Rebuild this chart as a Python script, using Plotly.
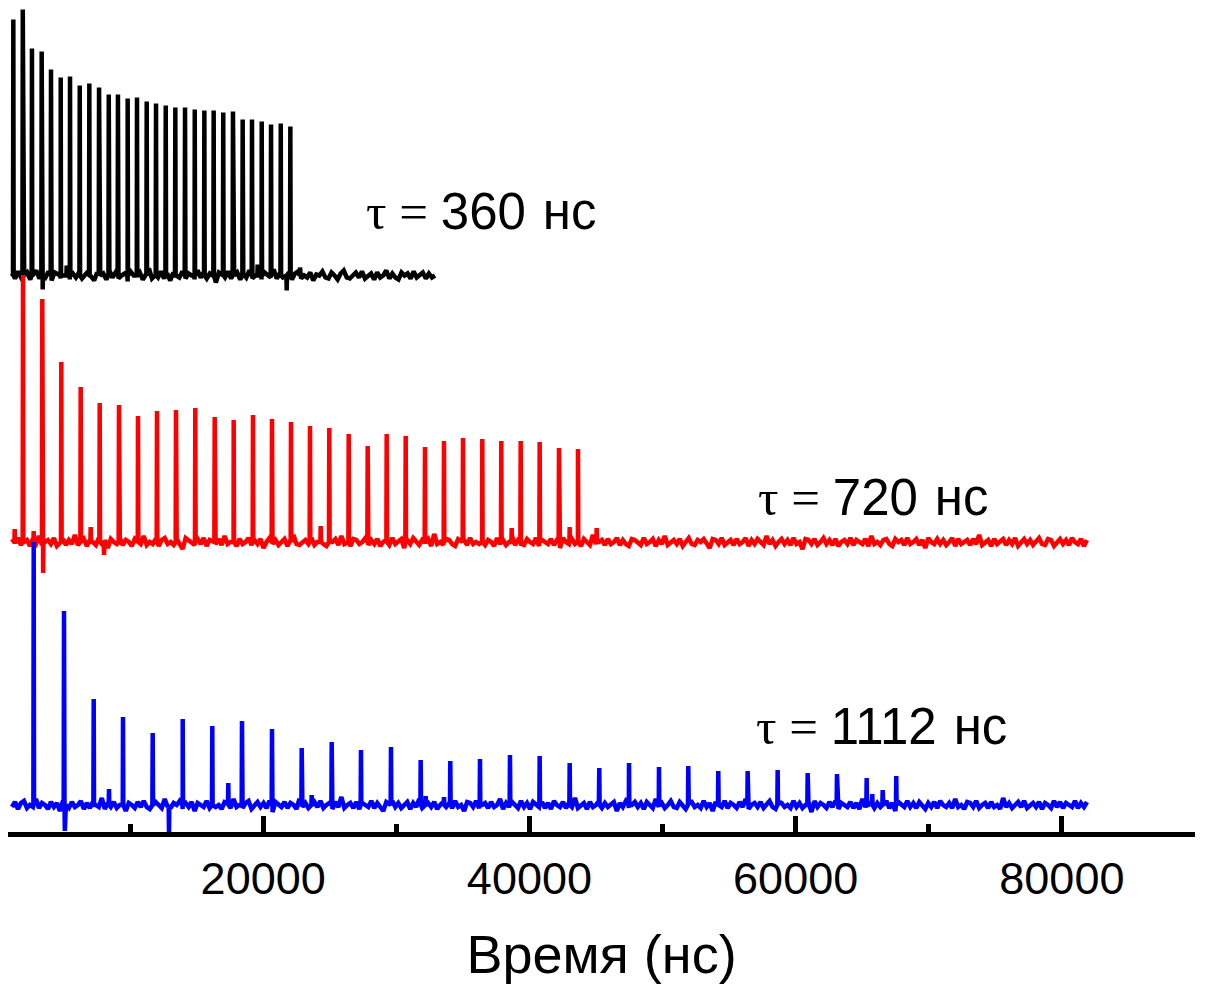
import numpy as np
import plotly.graph_objects as go

# ---------------------------------------------------------------
# Echo trains for three pulse spacings (time in ns, amplitude in arb. units)
# ---------------------------------------------------------------

# tau = 360 ns (black)
black_span = (1130, 32906)
black_base = 556.5
black_peak_ns = [1230, 1940, 2630, 3360, 4060, 4790, 5490, 6220, 6940, 7670,
                 8400, 9090, 9820, 10520, 11250, 11950, 12680, 13400, 14130, 14860,
                 15580, 16280, 17000, 17730, 18460, 19160, 19890, 20590, 21320, 22040]
black_peak_amp = [256, 266, 227, 224, 206, 198, 199, 190, 192, 188,
                  181, 181, 177, 178, 174, 172, 170, 168, 168, 166,
                  165, 165, 163, 164, 156, 156, 154, 151, 152, 149]
black_minor_ns = [3437, 5240, 19586, 21766, 22765]
black_minor_amp = [-14, 10, 11, -15, 8]
black_noise = [2, -3, 4, -2, 0, 3, -4, 1, 5, -3, 0, -2, 4, -5, 3, 1, -3, 0, 6, -4,
               2, -2, 3, -3, 0, 4, -1, -5, 3, 0, 2, -4, 5, -2, 3, -3, 0, 2, -6, 4,
               0, -2, 3, -4, 1, 7, -3, 0, -2, 4, -3, 2, -5, 3, 0, -2, 4, -3, 2, 0,
               -4, 5, -2, 3, -3, 2, 0, -7, 3, 1, -2, 4, -3, 0, 3, -4, 2, -2, 5, -3,
               0, 2, -4, 3, 0, -2, 6, -3, 2, -2, 0, 3, -4, 2, 4, -3, 0, -2, 3, -5,
               1, 0, 4, -2, -3, 3, 0, -4, 2, 5, -2, -3, 0, 3, -2, 4, -3, 0, 2, -4,
               3, -2, 0, 5, -3, 2, -2, -4, 3, 0, 2, -3, 4, -2, 0, 3, -3, 2, -2, 0]

# tau = 720 ns (red)
red_span = (1130, 81884)
red_base = 290
red_peak_ns = [1957, 3407, 4834, 6291, 7719, 9168, 10596, 12023, 13450, 14900,
               16357, 17784, 19234, 20662, 22089, 23516, 24966, 26424, 27851, 29278,
               30705, 32155, 33582, 35010, 36460, 37887, 39344, 40771, 42221, 43648]
red_peak_amp = [267, 243, 180, 155, 139, 137, 126, 131, 132, 134,
                125, 122, 127, 123, 120, 116, 114, 108, 96, 108,
                106, 95, 101, 104, 103, 101, 101, 100, 94, 93]
red_minor_ns = [1333, 2761, 3470, 7042, 8042, 24320, 38668, 43025, 45053]
red_minor_amp = [13, 11, -31, 15, -13, 16, 14, 15, 14]
red_noise = [3, -2, 4, -3, 0, 2, -4, 3, -2, 6, -3, 0, 2, -2, 4, -4, 0, 3, -3, 2,
             -2, 7, -3, 0, 3, -4, 2, 0, -3, 4, -2, 2, -6, 3, 0, -2, 4, -3, 2, 0,
             -4, 3, 2, -2, 6, -3, 0, -2, 3, -4, 2, 4, -2, 0, -3, 3, -2, -7, 4, 2,
             0, -3, 3, -2, 4, -4, 2, 0, -2, 3, -3, 6, -2, 0, 2, -4, 3, -2, 0, 4,
             -3, 2, -2, 3, -6, 0, 4, -2, 2, -3, 0, 3, -4, 2, 7, -2, -3, 0, 2, -2,
             4, -3, 0, 3, -2, -4, 2, 0, 3, -3, 6, -2, 0, -4, 3, 2, -2, 0, 4, -3,
             2, -2, 3, -4, 0, 2, -3, 4, -2, 0, 3, -6, 2, -2, 4, 0, -3, 2, -2, 3,
             -4, 8, -2, 0, -3, 3, 2, -2, -4, 3, 0, 2, -3, 4, -2, 0, -2, 3, -3, 2,
             0, -4, 4, -2, 2, -3, 0, 6, -3, 2, -2, -3, 3, 0, -2, 4, -4, 2, 0, -2,
             3, -3, 2, -6, 4, 0, -2, 3, -2, 2, -4, 3, 0, -3, 7, -2, 0, 2, -3, 3,
             -2, 0, 4, -3, 2, -2, -4, 3, 2, 0, -3, 4, -2, 0, 3, -4, 2, -2, 6, -3,
             0, 2, -2, 3, -4, 0, 4, -2, -3, 2, 0, 3, -2, -6, 3, 2, -2, 4, -3, 0,
             2, -3, 3, -2, 0, 4, -4, 2, -2, 3, 0, -3, 6, -2, 2, -4, 0, 3, -2, 2,
             -3, 4, -2, 0, -7, 3, 2, -2, 3, -3, 0, 4, -2, 2, -3, 3, -4, 0, 2, -2,
             4, -3, 2, 0, -2, 3, -4, 6, -2, 0, -3, 2, 3, -2, -4, 3, 0, 2, -3, 4,
             -2, 0, 3, -3, 2, -6, 4, 0, -2, 3, -2, 2, -3, 0, 4, -4, 3, -2, 0, 2,
             -3, 3, -2, 7, -3, 0, 2, -4, 3, -2, 0, 3, -3, 2, -2, 4, -4, 0, 3, -2,
             2, -3, 0, 4, -2, -3, 3, 2, -4, 0, 3, -2, 2, -3, 4, 0, -2, 3, -4, 2]

# tau = 1112 ns (blue)
blue_span = (1130, 81884)
blue_base = 27
blue_peak_ns = [2761, 5037, 7268, 9469, 11700, 13954, 16177, 18408, 20662, 22893,
                25147, 27347, 29601, 31832, 34056, 36287, 38540, 40771, 43025, 45248,
                47480, 49733, 51934, 54188, 56395, 58649, 60903, 63104, 65335, 67559]
blue_peak_amp = [263, 194, 106, 88, 72, 86, 79, 84, 76, 57,
                 63, 55, 58, 45, 44, 46, 50, 49, 42, 37,
                 42, 38, 39, 34, 34, 35, 32, 31, 27, 29]
blue_minor_ns = [5100, 8417, 12925, 17379, 23644, 32208, 33582, 65757, 66538]
blue_minor_amp = [-26, 16, -29, 22, 10, 9, 8, 11, 15]
blue_noise = [-2, 3, -4, 2, 4, -3, 0, -2, 6, -3, 2, 0, -4, 3, -2, 2, -6, 4, 0, -3,
              3, -2, 0, 4, -4, 2, -3, 3, 0, -2, 7, -4, 2, -2, 3, -3, 0, 4, -6, 2,
              0, -3, 3, -2, 4, -2, -4, 2, 3, 0, -3, 6, -2, -3, 2, 0, 4, -4, 2, -2,
              3, -6, 2, 0, -2, 4, -3, 3, -2, 0, -4, 3, 2, -3, 6, -2, 0, -3, 2, 4,
              -4, 0, 3, -2, 2, -3, 4, -7, 3, 0, -2, 3, -3, 2, 0, -4, 6, -2, 2, -3,
              0, 3, -2, 4, -3, 0, 2, -4, 3, -2, 8, -3, 0, 2, -3, 3, -4, 2, 0, -2,
              4, -3, 2, -2, -6, 3, 0, 4, -2, 2, -3, 0, 3, -4, 2, -2, 6, -3, 0, 2,
              -2, 3, -4, 0, 3, -2, 2, -3, 4, -2, 0, -6, 3, 2, -2, 4, -3, 0, 2, -3,
              3, -2, 0, 6, -4, 2, -2, 3, 0, -3, 4, -2, 2, -4, 3, 0, -2, 3, -3, 2,
              -4, 4, 0, -2, 3, -3, 2, -2, 7, -3, 0, 2, -4, 3, -2, 0, 4, -3, 2, -2,
              0, 3, -6, 2, -2, 4, -3, 0, 3, -2, 2, -4, 3, 0, -3, 6, -2, 2, -3, 0,
              4, -2, -3, 3, 0, -4, 2, 3, -2, 0, -3, 4, -2, 2, -6, 3, 0, -2, 4, -3,
              2, 0, -3, 3, -2, 6, -4, 0, 2, -2, 3, -3, 0, 4, -2, -4, 3, 2, -2, 0,
              -3, 4, -2, 2, -3, 0, 3, -7, 4, -2, 2, 0, -3, 3, -2, 4, -4, 2, 0, -2,
              3, -3, 2, -4, 6, -2, 0, 3, -3, 2, -2, 0, 4, -3, 2, -6, 3, 0, -2, 4,
              -2, 2, -3, 3, 0, -4, 2, -2, 3, -3, 4, 0, -2, 2, -3, 6, -2, 0, -4, 3,
              2, -2, 4, -3, 0, 2, -3, 3, -2, 0, -4, 7, -2, 2, -3, 0, 3, -2, 4, -3,
              0, 2, -2, 3, -4, 2, 0, -3, 4, -2, 3, -3, 2, 0, -2, 4, -3, 2, -2, 3]

x_tickvals = [20000, 40000, 60000, 80000]
x_ticktext = ["20000", "40000", "60000", "80000"]
x_minorvals = [10000, 30000, 50000, 70000, 90000]


def echo_trace(span, base, noise, spike_ns, spike_amp):
    """Noisy baseline sampled evenly over `span`, with narrow echo spikes."""
    t_noise = np.linspace(span[0], span[1], len(noise))
    y_noise = base + np.asarray(noise, dtype=float)
    st = np.asarray(spike_ns, dtype=float)
    sa = np.asarray(spike_amp, dtype=float)
    half = 25.0
    x = np.concatenate([t_noise, st - half, st, st + half])
    y = np.concatenate([y_noise, np.full_like(st, base), base + sa, np.full_like(st, base)])
    order = np.argsort(x, kind="stable")
    return x[order], y[order]


series = [
    (black_span, black_base, black_noise, black_peak_ns + black_minor_ns,
     black_peak_amp + black_minor_amp, "#000000"),
    (red_span, red_base, red_noise, red_peak_ns + red_minor_ns,
     red_peak_amp + red_minor_amp, "#ff0000"),
    (blue_span, blue_base, blue_noise, blue_peak_ns + blue_minor_ns,
     blue_peak_amp + blue_minor_amp, "#0000ff"),
]

fig = go.Figure()
for span, base, noise, sn, sa, color in series:
    x, y = echo_trace(span, base, noise, sn, sa)
    fig.add_trace(go.Scatter(x=x, y=y, mode="lines",
                             line=dict(color=color, width=4.5),
                             hoverinfo="skip", showlegend=False))

label_font = "Liberation Sans, Arial, sans-serif"
serif_span = "<span style='font-family:\"Liberation Serif\", \"Times New Roman\", serif'>τ = </span>"
labels = [
    (27600, 621, "360\u2004нс"),
    (57000, 335, "720\u2004нс"),
    (56850, 106, "1112\u2004нс"),
]
for lx, ly, txt in labels:
    fig.add_annotation(x=lx, y=ly, xref="x", yref="y", text=serif_span + txt,
                       showarrow=False, xanchor="left", yanchor="middle",
                       font=dict(family=label_font, size=51, color="black"))

fig.update_layout(
    width=1205, height=984,
    margin=dict(l=8, r=10, t=0, b=152),
    paper_bgcolor="white", plot_bgcolor="white",
    showlegend=False,
    font=dict(family=label_font, color="black"),
    xaxis=dict(
        range=[830, 90000],
        showline=True, linecolor="black", linewidth=5,
        showgrid=False, zeroline=False,
        ticks="inside", ticklen=16, tickwidth=5, tickcolor="black",
        tickmode="array", tickvals=x_tickvals, ticktext=x_ticktext,
        tickfont=dict(size=45, family=label_font, color="black"),
        ticklabelstandoff=3,
        minor=dict(tickmode="array", tickvals=x_minorvals, ticks="inside",
                   ticklen=8, tickwidth=5, tickcolor="black", showgrid=False),
        title=dict(text="Время (нс)", font=dict(size=54, family=label_font, color="black"),
                   standoff=40),
    ),
    yaxis=dict(visible=False, range=[0, 832]),
)

fig.write_html("out.html")
